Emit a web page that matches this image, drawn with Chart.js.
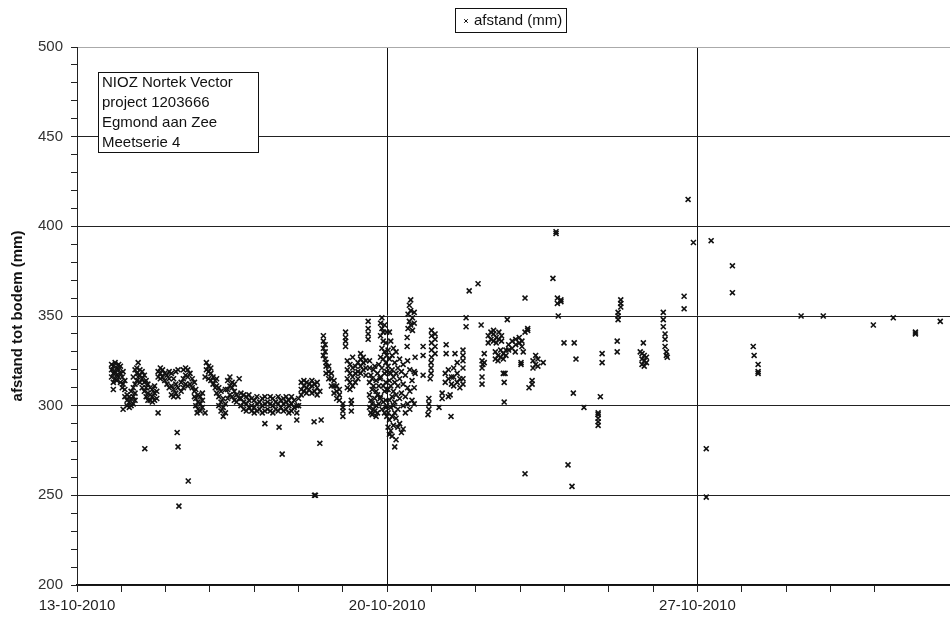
<!DOCTYPE html>
<html>
<head>
<meta charset="utf-8">
<script src="https://cdn.jsdelivr.net/npm/chart.js@4/dist/chart.umd.min.js"></script>
<style>
  html, body { margin: 0; padding: 0; background: #fff; }
  #wrap { width: 950px; height: 618px; }
</style>
</head>
<body>
<div id="wrap"><canvas id="afstandChart" width="950" height="618"></canvas></div>
<script>
// x = days since 13-10-2010 00:00, then the readings (mm) logged around that time
const week1 = [
  [0.78, 316, 320, 323], [0.82, 309, 313, 318, 322], [0.86, 315, 319, 324], [0.90, 314, 317, 321],
  [0.94, 316, 320, 323], [0.98, 313, 318, 322], [1.02, 310, 316], [1.04, 298, 312, 319],
  [1.08, 305, 309, 314], [1.13, 300, 303, 306], [1.18, 299, 302, 305], [1.22, 300, 304, 308],
  [1.27, 301, 305, 310, 316], [1.31, 303, 307, 312, 320], [1.35, 314, 318, 321], [1.38, 316, 324],
  [1.42, 313, 317, 320], [1.47, 310, 315, 319], [1.52, 308, 313, 317], [1.53, 276],
  [1.56, 305, 310, 314], [1.60, 303, 307, 312], [1.65, 303, 306, 310], [1.70, 302, 305, 309],
  [1.75, 303, 307, 311], [1.80, 304, 308], [1.83, 296, 316, 319], [1.88, 315, 318, 321],
  [1.93, 316, 320], [1.98, 314, 318], [2.03, 312, 317], [2.08, 310, 315, 319],
  [2.13, 306, 311, 318], [2.18, 305, 309, 315], [2.23, 307, 312, 319], [2.26, 285],
  [2.28, 277, 305, 310, 320], [2.30, 244], [2.35, 308, 313], [2.40, 310, 315, 320],
  [2.45, 312, 317, 321], [2.50, 311, 316, 320], [2.51, 258], [2.55, 312, 318],
  [2.60, 310, 315], [2.65, 305, 308, 313], [2.68, 300, 304, 309], [2.71, 296],
  [2.73, 298, 302, 306], [2.78, 297, 301, 305], [2.83, 299, 303, 307], [2.89, 296, 316],
  [2.92, 320, 324], [2.97, 315, 319, 322], [3.02, 314, 318, 321], [3.07, 312, 316],
  [3.12, 310, 314], [3.15, 307, 311, 315], [3.20, 300, 305, 310], [3.25, 297, 302, 308],
  [3.30, 294, 299, 304], [3.35, 296, 301, 309], [3.40, 304, 309, 314], [3.45, 306, 311, 316],
  [3.50, 305, 310, 313], [3.55, 303, 308, 312], [3.60, 302, 306], [3.66, 315, 304],
  [3.70, 300, 304, 307], [3.76, 298, 302, 306], [3.82, 297, 301, 305], [3.88, 299, 303, 306],
  [3.94, 297, 300, 304], [4.00, 296, 299, 303], [4.06, 297, 301, 305], [4.12, 298, 302],
  [4.18, 296, 300, 304], [4.24, 290, 297, 301, 305], [4.30, 298, 302], [4.36, 297, 301, 305],
  [4.42, 296, 300, 304], [4.48, 298, 302], [4.54, 297, 301, 305], [4.56, 288],
  [4.60, 299, 303], [4.63, 273], [4.66, 297, 301, 304], [4.72, 298, 302, 305],
  [4.78, 296, 300, 303], [4.84, 297, 301, 305], [4.90, 299, 303], [4.96, 292, 296, 300],
  [5.00, 300, 304], [5.06, 306, 309, 313], [5.12, 308, 311, 314], [5.18, 307, 310, 313],
  [5.24, 309, 312], [5.30, 307, 311, 314], [5.35, 291], [5.36, 308, 312, 250],
  [5.38, 250], [5.42, 306, 310, 313], [5.48, 279, 308], [5.51, 292],
  [5.56, 328, 332, 336, 339], [5.60, 326, 330, 334], [5.62, 318, 322, 324], [5.68, 315, 319, 322],
  [5.74, 311, 315, 318], [5.80, 307, 311, 314], [5.86, 304, 308, 311], [5.92, 303, 306, 309],
  [6.00, 294, 297, 299, 301], [6.06, 333, 336, 338, 341], [6.10, 310, 315, 320, 325], [6.16, 309, 313, 318, 323],
  [6.19, 297, 301, 303], [6.22, 311, 316, 321, 327], [6.28, 313, 318, 322], [6.34, 315, 319, 324],
  [6.40, 318, 322, 326, 329], [6.46, 320, 324, 327], [6.52, 317, 321, 325], [6.57, 337, 340, 343, 347],
  [6.60, 299, 306, 313, 321, 325], [6.63, 296, 303, 317], [6.66, 295, 301, 309, 315],
  [6.69, 298, 311, 320], [6.72, 297, 304, 322], [6.75, 294, 300, 308, 314], [6.78, 296, 306, 318],
  [6.81, 301, 311, 323], [6.84, 304, 315], [6.85, 327, 339, 346, 316, 305],
  [6.88, 332, 349, 343, 321, 298], [6.91, 326, 336, 341, 311, 302], [6.94, 330, 345, 318, 308, 296],
  [6.97, 335, 324, 313, 303, 299], [6.99, 341, 328, 319, 309, 300, 294]
];

const week2 = [
  [7.02, 331, 322, 309, 296, 288], [7.05, 341, 326, 314, 303, 292, 284], [7.08, 336, 318, 311, 299, 286],
  [7.11, 328, 320, 305, 283, 294], [7.14, 332, 316, 308, 300, 289], [7.17, 324, 313, 302, 296, 277],
  [7.20, 330, 318, 306, 293, 281], [7.24, 321, 311, 298, 288], [7.28, 326, 315, 304, 290],
  [7.32, 319, 307, 285], [7.36, 323, 312, 300, 287], [7.41, 317, 305, 296], [7.45, 333, 338],
  [7.46, 325, 310, 301], [7.47, 343, 351], [7.50, 347, 356], [7.51, 320, 308, 298],
  [7.53, 345, 353, 359], [7.56, 314, 303], [7.57, 342, 349], [7.61, 346, 352, 319, 310, 301],
  [7.63, 327, 318], [7.81, 333, 328, 317],
  [7.92, 295], [7.94, 298, 301, 304], [7.97, 315], [7.99, 318, 321, 324],
  [8.00, 327, 331, 335, 339, 342], [8.08, 329, 333, 337, 340], [8.17, 299], [8.24, 304, 307],
  [8.31, 313, 318], [8.33, 334, 329], [8.38, 315, 320, 305], [8.42, 306], [8.44, 294],
  [8.45, 312, 316], [8.50, 311, 316, 321], [8.53, 329], [8.58, 313, 318, 324], [8.64, 310, 315],
  [8.71, 312, 315, 321, 325, 328, 331], [8.78, 344, 349], [8.85, 364], [9.05, 368], [9.12, 345],
  [9.14, 312, 316, 321, 325], [9.16, 323], [9.19, 324, 329], [9.28, 335, 339], [9.34, 337, 341],
  [9.40, 336, 340, 342], [9.44, 326, 330], [9.46, 335, 338], [9.50, 325, 328], [9.52, 337, 341],
  [9.56, 327, 331], [9.58, 336, 339], [9.62, 318, 326, 329], [9.64, 313, 302], [9.66, 318],
  [9.68, 328, 331], [9.71, 348], [9.74, 331, 334], [9.82, 332, 336], [9.89, 330],
  [9.90, 334, 337], [9.98, 335, 338], [10.02, 323, 324], [10.04, 333, 336], [10.07, 330],
  [10.11, 341, 360, 262], [10.17, 343, 342], [10.20, 310], [10.27, 312, 314], [10.29, 321, 325],
  [10.35, 323, 328], [10.40, 322, 326], [10.52, 324], [10.74, 371], [10.81, 396, 397],
  [10.84, 357, 360], [10.86, 350], [10.92, 359, 358], [10.99, 335], [11.08, 267], [11.17, 255],
  [11.20, 307], [11.22, 335], [11.26, 326], [11.44, 299], [11.76, 289, 291, 293, 295, 296],
  [11.81, 305], [11.85, 329, 324], [12.19, 336, 330], [12.21, 348, 350, 352], [12.27, 355, 357, 359],
  [12.71, 330], [12.75, 323, 326, 329], [12.78, 335], [12.80, 322, 325, 328], [12.85, 324, 327],
  [13.23, 352, 348, 344], [13.27, 340, 337, 333], [13.30, 330, 328], [13.32, 327],
  [13.70, 361, 354], [13.79, 415], [13.91, 391]
];

const week3 = [
  [14.20, 276, 249], [14.31, 392], [14.79, 378, 363], [15.26, 333], [15.28, 328],
  [15.37, 323, 318, 319], [16.34, 350], [16.84, 350], [17.97, 345], [18.42, 349],
  [18.92, 340, 341], [19.48, 347]
];

const labelDays = [0, 7, 14];
const dateLabels = ['13-10-2010', '20-10-2010', '27-10-2010'];
const infoLines = ['NIOZ Nortek Vector', 'project 1203666', 'Egmond aan Zee', 'Meetserie 4'];
const seriesName = 'afstand (mm)';
const yTitle = 'afstand tot bodem (mm)';

const readings = [...week1, ...week2, ...week3].flatMap(([day, ...mm]) => mm.map((v) => ({ x: day, y: v })));

const FONT = "'Liberation Sans', Arial, sans-serif";
Chart.defaults.font.family = FONT;
Chart.defaults.color = '#333';

// legend box at the top and the info box in the upper left corner
const boxesPlugin = {
  id: 'boxes',
  afterDraw(chart) {
    const ctx = chart.ctx;
    ctx.save();

    // legend
    ctx.fillStyle = '#fff';
    ctx.fillRect(455.5, 8.5, 111, 24);
    ctx.strokeStyle = '#111';
    ctx.lineWidth = 1;
    ctx.strokeRect(455.5, 8.5, 111, 24);
    Chart.helpers.drawPoint(ctx, { pointStyle: 'crossRot', radius: 2.6, borderWidth: 1.2 }, 466, 21);
    ctx.fillStyle = '#111';
    ctx.font = '15px ' + FONT;
    ctx.textBaseline = 'middle';
    ctx.textAlign = 'left';
    ctx.fillText(seriesName, 474, 21);

    // info box
    ctx.fillStyle = '#fff';
    ctx.fillRect(98.5, 72.5, 160, 80);
    ctx.strokeRect(98.5, 72.5, 160, 80);
    ctx.fillStyle = '#111';
    infoLines.forEach((line, i) => ctx.fillText(line, 102, 83 + i * 20));

    ctx.restore();
  }
};

new Chart(document.getElementById('afstandChart'), {
  type: 'scatter',
  data: {
    datasets: [{
      label: seriesName,
      data: readings,
      pointStyle: 'crossRot',
      radius: 3.5,
      borderWidth: 1.6,
      borderColor: '#111',
      backgroundColor: '#111'
    }]
  },
  options: {
    responsive: false,
    animation: false,
    layout: {
      autoPadding: false,
      padding: { top: 47, right: 0, left: 0, bottom: 0 }
    },
    plugins: {
      legend: { display: false },
      tooltip: { enabled: false }
    },
    scales: {
      x: {
        type: 'linear',
        min: 0,
        max: 19.7,
        afterFit: (scale) => {
          scale.height = 33;
          scale.paddingRight = 0;
        },
        border: { color: '#111', width: 1.5 },
        grid: {
          color: (c) => (c.tick && labelDays.includes(c.tick.value) && c.tick.value > 0 ? '#111' : 'rgba(0,0,0,0)'),
          tickColor: '#222',
          tickLength: 7,
          lineWidth: 1
        },
        ticks: {
          stepSize: 1,
          autoSkip: false,
          maxRotation: 0,
          padding: 5,
          color: '#222',
          font: { size: 15 },
          callback: (v) => {
            const i = labelDays.indexOf(v);
            return i >= 0 ? dateLabels[i] : '';
          }
        }
      },
      y: {
        min: 200,
        max: 500,
        afterFit: (scale) => { scale.width = 77; },
        border: { color: '#222', width: 1 },
        title: {
          display: true,
          text: yTitle,
          color: '#111',
          font: { size: 15, weight: 'bold' },
          padding: { top: 9, bottom: 4 }
        },
        grid: {
          color: (c) => {
            const v = c.tick ? c.tick.value : 0;
            if (v === 500) return '#aaa';
            return v % 50 === 0 ? '#222' : 'rgba(0,0,0,0)';
          },
          tickColor: '#222',
          tickLength: 6,
          lineWidth: 1
        },
        ticks: {
          stepSize: 10,
          autoSkip: false,
          padding: 8,
          color: '#333',
          font: { size: 15 },
          callback: (v) => (v % 50 === 0 ? String(v) : '')
        }
      }
    }
  },
  plugins: [boxesPlugin]
});
</script>
</body>
</html>
